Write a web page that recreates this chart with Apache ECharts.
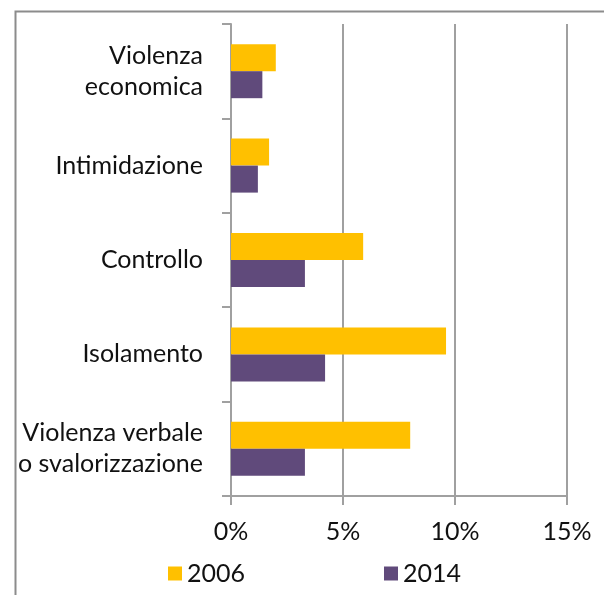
<!DOCTYPE html>
<html>
<head>
<meta charset="utf-8">
<script src="https://cdn.jsdelivr.net/npm/echarts@6/dist/echarts.min.js"></script>
<style>html,body{margin:0;padding:0;background:#fff}#c{width:604px;height:595px}</style>
</head>
<body>
<div id="c"></div>
<script>
var categories = ['Violenza\neconomica', 'Intimidazione', 'Controllo', 'Isolamento', 'Violenza verbale\no svalorizzazione'];
var seriesNames = ['2006', '2014'];
var values2006 = [2.0, 1.7, 5.9, 9.6, 8.0];
var values2014 = [1.4, 1.2, 3.3, 4.2, 3.3];
var xTicks = [0, 5, 10, 15];

var FONT = 'Lato';
var TXT = '#111';
var LINE = '#a0a0a0';

var chart = echarts.init(document.getElementById('c'), null, {renderer: 'canvas'});
chart.setOption({
  animation: false,
  backgroundColor: '#fff',
  graphic: [{
    type: 'rect', left: 13, top: 9, silent: true,
    shape: {width: 700, height: 700},
    style: {fill: 'none', stroke: '#8c8c8c', lineWidth: 2}
  }],
  grid: {left: 231, right: 37, top: 24, bottom: 99},
  legend: [
    {data: ['2006'], left: 168, top: 561, padding: 0, icon: 'rect', itemWidth: 14, itemHeight: 14, itemGap: 0,
     textStyle: {fontFamily: FONT, fontSize: 25, color: TXT}},
    {data: ['2014'], left: 384, top: 561, padding: 0, icon: 'rect', itemWidth: 14, itemHeight: 14, itemGap: 0,
     textStyle: {fontFamily: FONT, fontSize: 25, color: TXT}}
  ],
  xAxis: {
    type: 'value', min: xTicks[0], max: xTicks[xTicks.length - 1], interval: 5,
    axisLine: {show: true, lineStyle: {color: LINE, width: 2}},
    axisTick: {show: true, length: 9, lineStyle: {color: LINE, width: 2}},
    splitLine: {show: true, lineStyle: {color: LINE, width: 2}},
    axisLabel: {formatter: '{value}%', fontFamily: FONT, fontSize: 25, color: TXT, margin: 23}
  },
  yAxis: {
    type: 'category', data: categories, inverse: true,
    axisLine: {show: true, lineStyle: {color: LINE, width: 2}},
    axisTick: {show: true, length: 9, lineStyle: {color: LINE, width: 2}},
    axisLabel: {fontFamily: FONT, fontSize: 25, color: TXT, margin: 28, lineHeight: 31, align: 'right'}
  },
  series: [
    {name: seriesNames[0], type: 'bar', data: values2006, barWidth: 27, barGap: '0%',
     itemStyle: {color: '#FFC000'}},
    {name: seriesNames[1], type: 'bar', data: values2014, barWidth: 27, barGap: '0%',
     itemStyle: {color: '#604A7B'}}
  ]
});
</script>
</body>
</html>
